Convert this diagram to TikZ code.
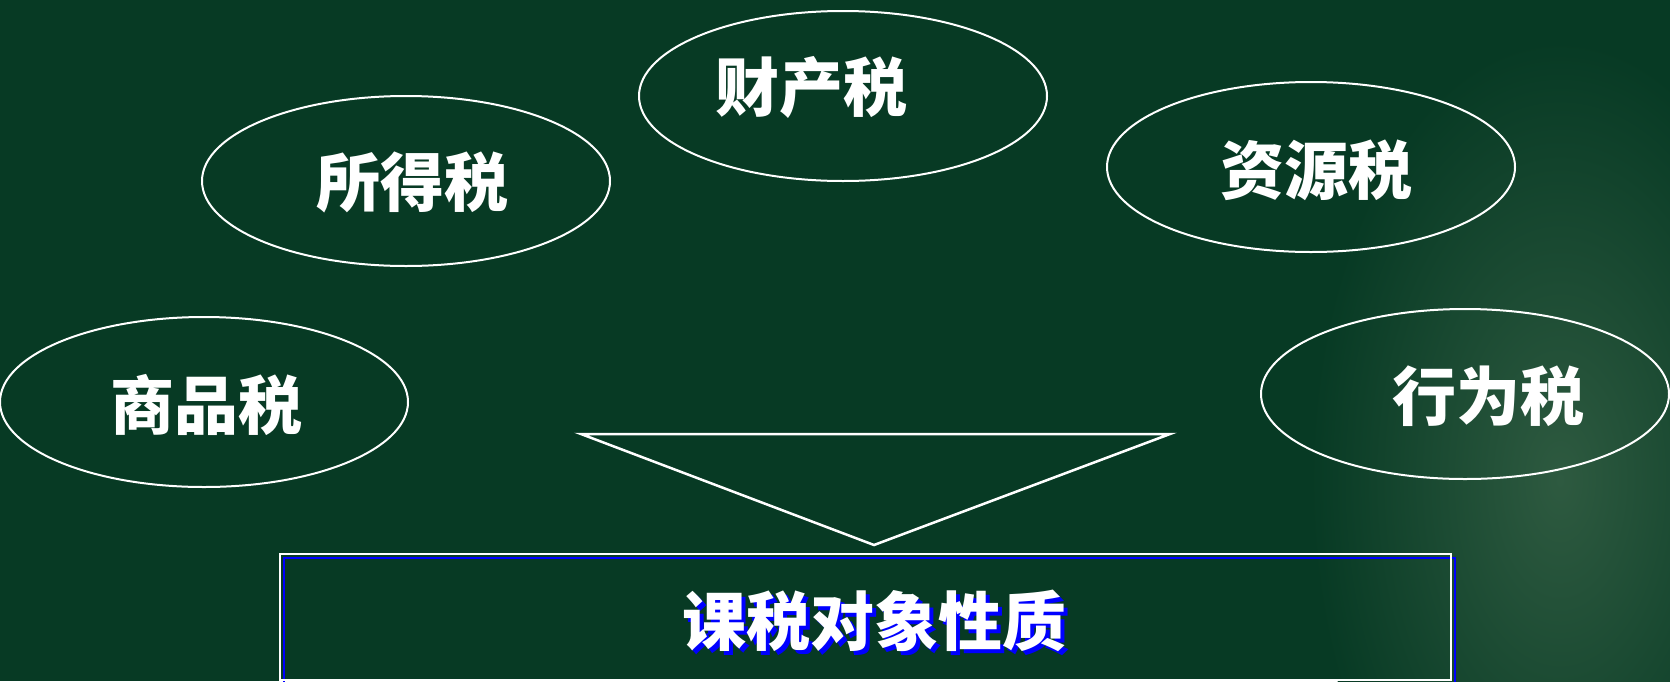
\documentclass[tikz,border=0pt]{standalone}
\usepackage{fontspec}
\newfontfamily\cjk{Noto Sans CJK SC}
\usetikzlibrary{shapes.geometric}
\definecolor{bg}{RGB}{7,58,36}
\definecolor{bglight}{RGB}{46,90,64}
\definecolor{shadowblue}{RGB}{0,0,255}
\newcommand{\shadowtext}[1]{\makebox[0pt][l]{\hspace{4.5pt}\raisebox{-4.5pt}{\color{shadowblue}#1}}#1}
\tikzset{
  oval/.style={draw=white, line width=2pt, ellipse, minimum width=408pt, minimum height=170pt, inner sep=0pt},
  label/.style={text=white, font=\cjk\bfseries\fontsize{64}{64}\selectfont, inner sep=0pt},
  bigtext/.style={text=white, font=\cjk\bfseries\fontsize{64}{64}\selectfont, inner sep=0pt},
}
\begin{document}
\begin{tikzpicture}[x=1pt,y=-1pt]
\useasboundingbox (0,0) rectangle (1670,681);
\fill[bg] (0,0) rectangle (1670,681);
\begin{scope}
\clip (0,0) rectangle (1670,681);
\shade[inner color=bglight, outer color=bg] (1560,480) ellipse [x radius=250pt, y radius=440pt];
\end{scope}
% ellipses
\node[oval] (e1) at (843,96) {};
\node[oval] (e2) at (406,181) {};
\node[oval] (e3) at (1311,167) {};
\node[oval] (e4) at (204,402) {};
\node[oval] (e5) at (1465,394) {};
% labels
\node[label] (t1) at (811,87) {财产税};
\node[label] (t2) at (412,182) {所得税};
\node[label] (t3) at (1316,170) {资源税};
\node[label] (t4) at (206,405) {商品税};
\node[label] (t5) at (1488,396) {行为税};
% triangle
\coordinate (tl) at (581,434);
\coordinate (tr) at (1170,434);
\coordinate (tb) at (874,545);
\draw[white, line width=2.5pt, line join=miter] (tl) -- (tr) -- (tb) -- cycle;
% bottom box
\begin{scope}
\clip (0,0) rectangle (1670,681);
\node[draw=shadowblue, line width=2.5pt, minimum width=1171pt, minimum height=126pt, inner sep=0pt] (boxshadow) at (869.5,621) {};
\node[draw=white, line width=2.5pt, minimum width=1171pt, minimum height=126pt, inner sep=0pt] (box) at (865.5,617) {};
\node[bigtext] (mt) at (874,623) {\shadowtext{课税对象性质}};
\end{scope}
\end{tikzpicture}
\end{document}
